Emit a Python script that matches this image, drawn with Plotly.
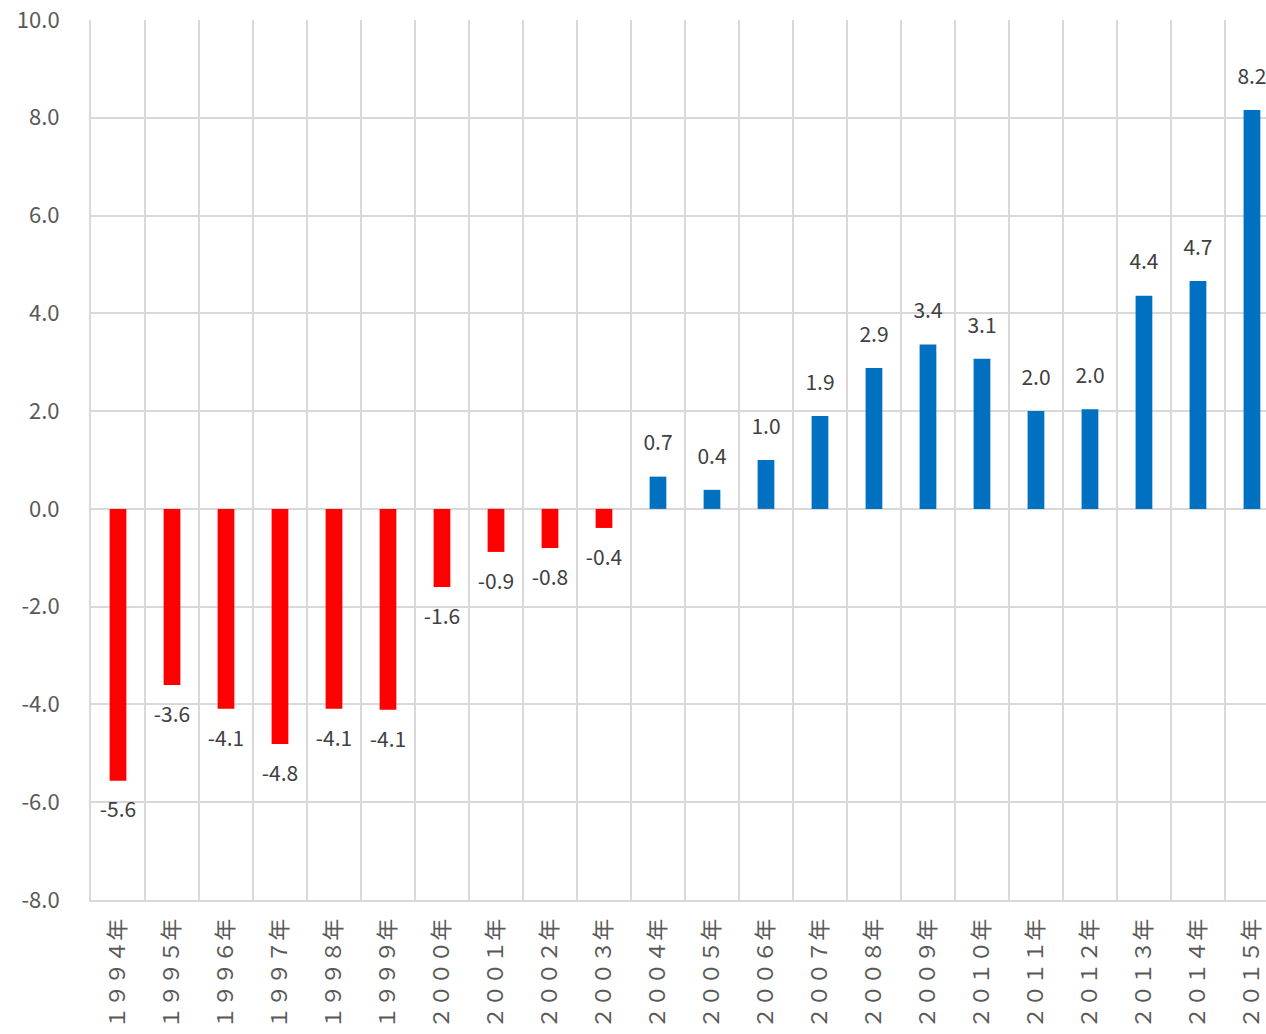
import plotly.graph_objects as go

years = ["１９９４年", "１９９５年", "１９９６年", "１９９７年", "１９９８年", "１９９９年",
         "２０００年", "２００１年", "２００２年", "２００３年", "２００４年", "２００５年",
         "２００６年", "２００７年", "２００８年", "２００９年", "２０１０年", "２０１１年",
         "２０１２年", "２０１３年", "２０１４年", "２０１５年"]
values = [-5.56, -3.60, -4.09, -4.81, -4.09, -4.11, -1.60, -0.88, -0.80, -0.39,
          0.66, 0.39, 1.00, 1.90, 2.88, 3.36, 3.07, 2.00, 2.04, 4.36, 4.66, 8.16]
y_ticks = [-8, -6, -4, -2, 0, 2, 4, 6, 8, 10]

RED = "#FF0000"
BLUE = "#0070C0"
GRID = "#D9D9D9"
FONT = "Noto Sans CJK JP"

colors = [RED if v < 0 else BLUE for v in values]
text_pos = ["bottom center" if v < 0 else "top center" for v in values]

fig = go.Figure()
fig.add_trace(go.Bar(
    x=years, y=values, marker=dict(color=colors, line=dict(width=0)),
    width=0.31, hoverinfo="skip",
))
fig.add_trace(go.Scatter(
    x=years, y=values, mode="markers+text",
    marker=dict(size=32, opacity=0),
    text=[f"{v:.1f}" for v in values], textposition=text_pos,
    textfont=dict(family=FONT, size=21, color="#404040"),
    hoverinfo="skip", cliponaxis=False,
))

fig.update_layout(
    width=1266, height=1034,
    margin=dict(l=91, r=0, t=20, b=134),
    plot_bgcolor="white", paper_bgcolor="white",
    showlegend=False,
    font=dict(family=FONT, color="#595959"),
)
fig.update_xaxes(
    type="category", range=[-0.5, 21.26], tickson="boundaries",
    showgrid=True, gridcolor=GRID, gridwidth=2,
    tickangle=-90, tickfont=dict(family=FONT, size=22, color="#595959"),
    ticklabelstandoff=8, automargin=False,
    showline=True, linecolor=GRID, linewidth=2,
    zeroline=False, ticks="",
)
fig.update_yaxes(
    range=[-8, 10], tickvals=y_ticks, ticktext=[f"{t:.1f}" for t in y_ticks],
    showgrid=True, gridcolor=GRID, gridwidth=2,
    zeroline=False, showline=True, linecolor=GRID, linewidth=2, ticks="",
    ticklabelstandoff=25, automargin=False,
    tickfont=dict(family=FONT, size=22, color="#595959"),
)

fig.write_html("out.html")
